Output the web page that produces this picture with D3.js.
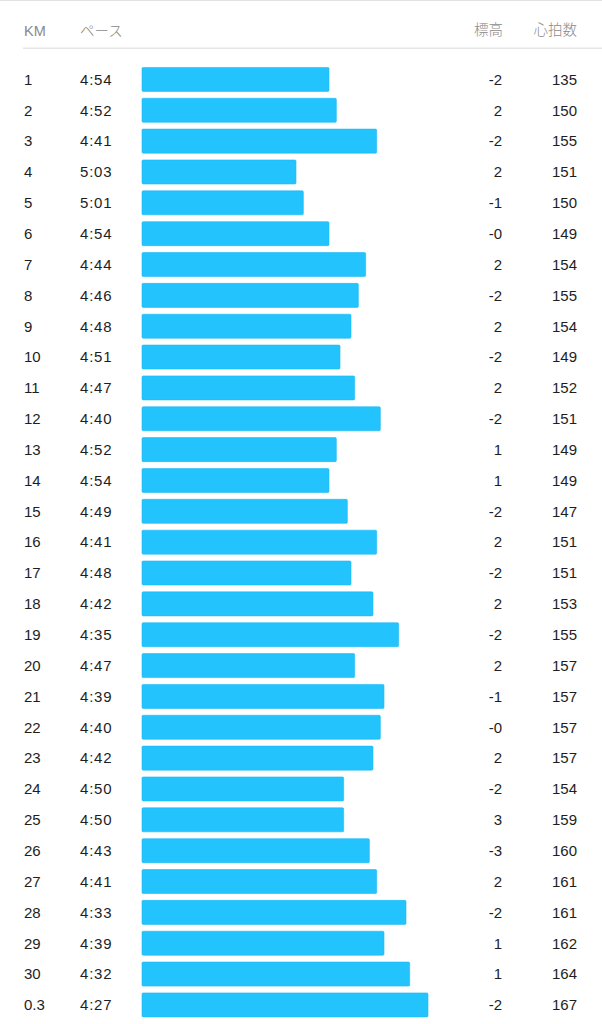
<!DOCTYPE html>
<html>
<head>
<meta charset="utf-8">
<script src="https://cdn.jsdelivr.net/npm/d3@7"></script>
<style>
  html, body { margin: 0; padding: 0; background: #fff; }
  svg { display: block; }
</style>
</head>
<body>
<svg id="chart" width="602" height="1024"></svg>
<script>
// ---- data ----
const headers = ["KM", "ペース", "標高", "心拍数"];
const kms = ["1","2","3","4","5","6","7","8","9","10","11","12","13","14","15","16","17","18","19","20","21","22","23","24","25","26","27","28","29","30","0.3"];
const paces = ["4:54","4:52","4:41","5:03","5:01","4:54","4:44","4:46","4:48","4:51","4:47","4:40","4:52","4:54","4:49","4:41","4:48","4:42","4:35","4:47","4:39","4:40","4:42","4:50","4:50","4:43","4:41","4:33","4:39","4:32","4:27"];
const elevations = ["-2","2","-2","2","-1","-0","2","-2","2","-2","2","-2","1","1","-2","2","-2","2","-2","2","-1","-0","2","-2","3","-3","2","-2","1","1","-2"];
const heartRates = [135,150,155,151,150,149,154,155,154,149,152,151,149,149,147,151,151,153,155,157,157,157,157,154,159,160,161,161,162,164,167];
const paceDomain = ["5:45", "4:27"]; // bar length scale: slow end (zero) -> fastest

const toSec = p => { const [m, s] = p.split(":").map(Number); return m * 60 + s; };

const rows = kms.map((k, i) => ({ km: k, pace: paces[i], sec: toSec(paces[i]), elev: elevations[i], hr: heartRates[i] }));

const svg = d3.select("#chart");
const W = 602;

const latin = "'Liberation Sans', Arial, 'Noto Sans CJK JP', sans-serif";
const cjk = "'Liberation Sans', 'Noto Sans CJK JP', sans-serif";

// top rule
svg.append("rect").attr("x", 0).attr("y", 0).attr("width", W).attr("height", 1).attr("fill", "#e2e2e2");
// header rule
svg.append("rect").attr("x", 23).attr("y", 47.5).attr("width", W - 23).attr("height", 1.5).attr("fill", "#e6e6e6");

// header texts
const hdr = svg.append("g").attr("font-family", cjk).attr("font-size", 14.5).attr("fill", "#8a8a8a");
hdr.append("text").attr("x", 24).attr("y", 36).text(headers[0]);
hdr.append("text").attr("x", 80).attr("y", 36).attr("font-weight", 300).text(headers[1]);
hdr.append("text").attr("x", 503).attr("y", 34.5).attr("text-anchor", "end").attr("font-weight", 300).text(headers[2]);
hdr.append("text").attr("x", 577).attr("y", 34.5).attr("text-anchor", "end").attr("font-weight", 300).text(headers[3]);

// scales
const y = d3.scaleBand()
  .domain(rows.map((d, i) => i))
  .range([64, 64 + 31 * 30.85])
  .paddingInner(0.222)
  .paddingOuter(0.111);

const x = d3.scaleLinear()
  .domain(paceDomain.map(toSec))
  .range([142, 428]);

// bars
svg.append("g").selectAll("rect").data(rows).join("rect")
  .attr("x", x.range()[0])
  .attr("y", (d, i) => y(i))
  .attr("width", d => x(d.sec) - x.range()[0])
  .attr("height", y.bandwidth())
  .attr("rx", 1.2)
  .attr("fill", "#23c3fd")
  .attr("stroke", "#1fb8f2")
  .attr("stroke-width", 0.6);

// row texts
const txt = svg.append("g").attr("font-family", latin).attr("font-size", 15).attr("fill", "#1e1e1e");
const baseY = i => y(i) + y.bandwidth() / 2 + 5.3;

txt.selectAll("text.km").data(rows).join("text").attr("class", "km")
  .attr("x", 24).attr("y", (d, i) => baseY(i)).text(d => d.km);
txt.selectAll("text.pace").data(rows).join("text").attr("class", "pace")
  .attr("x", 80).attr("y", (d, i) => baseY(i)).attr("letter-spacing", 0.8).text(d => d.pace);
txt.selectAll("text.elev").data(rows).join("text").attr("class", "elev")
  .attr("x", 502).attr("y", (d, i) => baseY(i)).attr("text-anchor", "end").text(d => d.elev);
txt.selectAll("text.hr").data(rows).join("text").attr("class", "hr")
  .attr("x", 577).attr("y", (d, i) => baseY(i)).attr("text-anchor", "end").text(d => d.hr);
</script>
</body>
</html>
